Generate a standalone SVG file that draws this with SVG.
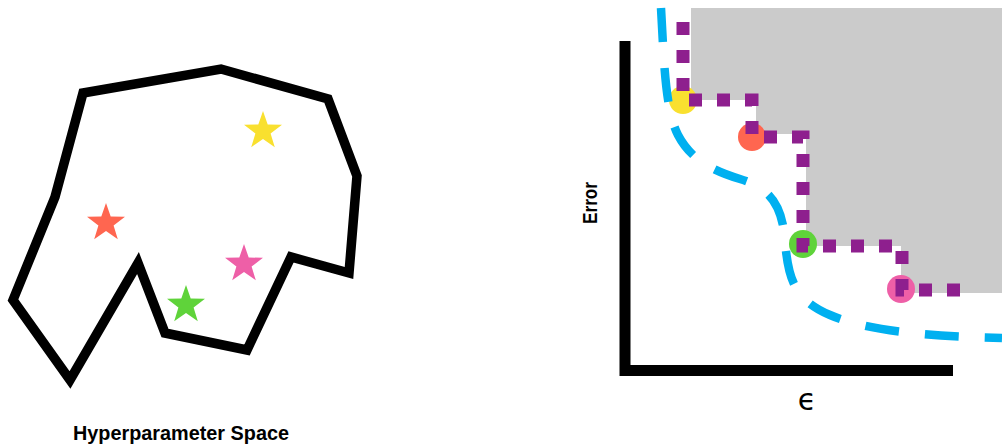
<svg xmlns="http://www.w3.org/2000/svg" width="1002" height="446" viewBox="0 0 1002 446">
<style>
.star{stroke:none}
.lbl{font-family:"Liberation Sans",Arial,sans-serif;font-weight:bold;fill:#000}
.pt{stroke:none}
</style>
<defs>
<polygon id="star" points="0,-20 4.7,-6.5 19,-6.2 7.6,2.5 11.8,16.2 0,8 -11.8,16.2 -7.6,2.5 -19,-6.2 -4.7,-6.5"/>
</defs>
<rect width="1002" height="446" fill="#fff"/>
<g id="hyperparameter-space">
<polygon points="83,93 221,69 328,99 357,176 349,273 291,257 247,350 165,333 138,263 70,380 13,300 55,197" fill="none" stroke="#000" stroke-width="9.5" stroke-linejoin="miter"/>
<use href="#star" x="263" y="131" fill="#F9E02F" class="star"/>
<use href="#star" x="106" y="223" fill="#FF6650" class="star"/>
<use href="#star" x="244" y="264" fill="#EE5FA7" class="star"/>
<use href="#star" x="186" y="305" fill="#5FD33A" class="star"/>
<text class="lbl" x="181" y="440" font-size="20" text-anchor="middle" textLength="216" lengthAdjust="spacingAndGlyphs">Hyperparameter Space</text>
</g>
<g id="plot">
<polygon id="dominated-region" points="691,8 1002,8 1002,293 901,293 901,246 806,246 806,134 756,134 756,100 691,100" fill="#CBCBCB"/>
<circle class="pt" cx="683" cy="100" r="14" fill="#F9E02F"/>
<circle class="pt" cx="752" cy="137" r="14" fill="#FF6650"/>
<circle class="pt" cx="803" cy="244" r="14" fill="#5FD33A"/>
<circle class="pt" cx="901" cy="289" r="14" fill="#EE5FA7"/>
</g>
<g id="connectors">
<path d="M683,22 V100 H752 V137 H803 V246 H902 V290 H972" fill="none" stroke="#8E1F8E" stroke-width="13" stroke-dasharray="13 15"/>
<path d="M661,8 C664,60 665,110 678,135 C690,158 710,170 740,179 C770,188 782,205 785,240 C788,280 795,300 830,315 C870,332 930,336 1002,338" fill="none" stroke="#00B0F0" stroke-width="8.5" stroke-dasharray="34 26"/>
<path d="M625,41 V376" stroke="#000" stroke-width="11" fill="none"/>
<path d="M620,370.5 H953" stroke="#000" stroke-width="11" fill="none"/>
</g>
<g id="labels">
<text class="lbl" transform="translate(597,203) rotate(-90)" font-size="20" text-anchor="middle" textLength="42" lengthAdjust="spacingAndGlyphs">Error</text>
<text x="807" y="410" font-family="DejaVu Sans,sans-serif" font-size="30" text-anchor="middle" fill="#000">ϵ</text>
</g>
</svg>
